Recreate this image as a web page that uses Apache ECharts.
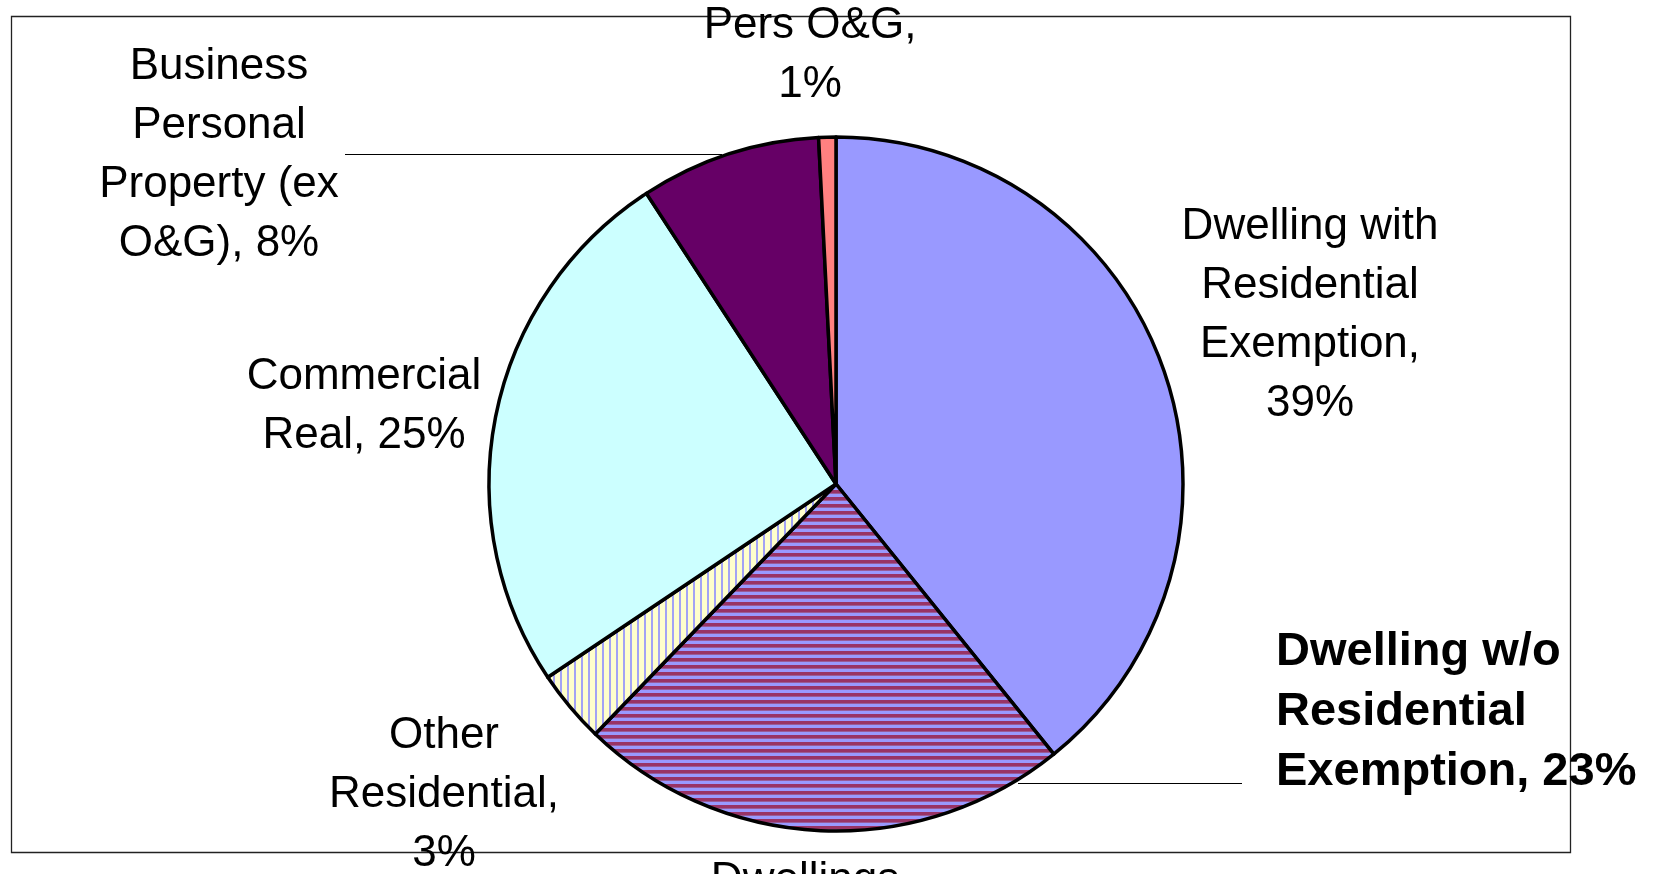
<!DOCTYPE html>
<html>
<head>
<meta charset="utf-8">
<script src="https://cdn.jsdelivr.net/npm/echarts@6/dist/echarts.min.js"></script>
<style>
  html, body { margin: 0; padding: 0; background: #fff; }
  #chart { width: 1656px; height: 874px; }
</style>
</head>
<body>
<div id="chart"></div>
<script>
// ---- data ----
const categories = [
  'Dwelling with Residential Exemption',
  'Dwelling w/o Residential Exemption',
  'Other Residential',
  'Commercial Real',
  'Business Personal Property (ex O&G)',
  'Pers O&G'
];
const values = [39.2, 23.0, 3.4, 25.2, 8.4, 0.8];
// label text with line breaks (percent appended)
const labelPrefixes = [
  'Dwelling with\nResidential\nExemption,\n',
  'Dwelling w/o\nResidential\nExemption, ',
  'Other\nResidential,\n',
  'Commercial\nReal, ',
  'Business\nPersonal\nProperty (ex\nO&G), ',
  'Pers O&G,\n'
];
const footerText = 'Dwellings';

// ---- styling / layout ----
function stripes(w, h, draw) {
  const c = document.createElement('canvas');
  c.width = w; c.height = h;
  const ctx = c.getContext('2d');
  draw(ctx);
  return c;
}
const hStripes = stripes(7, 7, ctx => {
  ctx.fillStyle = '#9999FF'; ctx.fillRect(0, 0, 7, 7);
  ctx.fillStyle = '#993366'; ctx.fillRect(0, 0, 7, 3);
  ctx.fillStyle = '#995C99'; ctx.fillRect(0, 3, 7, 1);
});
const vStripes = stripes(7, 7, ctx => {
  ctx.fillStyle = '#FFFFCC'; ctx.fillRect(0, 0, 7, 7);
  ctx.fillStyle = '#A3A3F5'; ctx.fillRect(0, 0, 2, 7);
});
const fills = ['#9999FF', { image: hStripes, repeat: 'repeat' }, { image: vStripes, repeat: 'repeat' },
               '#CCFFFF', '#660066', '#FF8080'];
// label anchor [x, y, align]
const labelPos = [
  [1310, 315, 'center'],
  [1276, 712, 'left'],
  [444, 795, 'center'],
  [364, 406, 'center'],
  [219, 155, 'center'],
  [810, 55, 'center']
];
const leaderLines = {
  1: [[1018, 783.5], [1242, 783.5]],
  4: [[722, 154.5], [345, 154.5]]
};

const FONT = '"Liberation Sans", Arial, Helvetica, sans-serif';

const data = categories.map((name, i) => {
  const item = {
    name: name,
    value: values[i],
    itemStyle: { color: fills[i], borderColor: '#000', borderWidth: 3.5 },
    label: {}
  };
  if (i === 1) {
    item.label = { fontWeight: 'bold', fontSize: 47, lineHeight: 60 };
  }
  item.labelLine = { show: !!leaderLines[i] };
  return item;
});

const chart = echarts.init(document.getElementById('chart'), null, { renderer: 'canvas' });
chart.setOption({
  animation: false,
  backgroundColor: '#fff',
  graphic: [
    {
      type: 'rect', z: 0, silent: true,
      shape: { x: 11.5, y: 16.5, width: 1559, height: 836 },
      style: { fill: null, stroke: '#222', lineWidth: 1.3 }
    },
    {
      type: 'text', z: 10, silent: true,
      x: 805, y: 881,
      style: { text: footerText, font: '44px ' + FONT, fill: '#000', textAlign: 'center', textVerticalAlign: 'middle' }
    }
  ],
  series: [{
    type: 'pie',
    center: [836, 484],
    radius: 347,
    startAngle: 90,
    clockwise: true,
    avoidLabelOverlap: false,
    percentPrecision: 2,
    emphasis: { disabled: true },
    itemStyle: { borderColor: '#000', borderWidth: 3.5 },
    label: {
      show: true,
      position: 'outside',
      color: '#000',
      fontFamily: FONT,
      fontSize: 44,
      lineHeight: 59,
      formatter: p => labelPrefixes[p.dataIndex] + Math.round(p.percent) + '%'
    },
    labelLine: {
      show: false,
      smooth: false,
      lineStyle: { color: '#000', width: 1 }
    },
    labelLayout: function (params) {
      const i = params.dataIndex;
      const p = labelPos[i];
      const res = { x: p[0], y: p[1], align: p[2], verticalAlign: 'middle' };
      if (leaderLines[i]) res.labelLinePoints = leaderLines[i];
      return res;
    },
    data: data
  }]
});
</script>
</body>
</html>
